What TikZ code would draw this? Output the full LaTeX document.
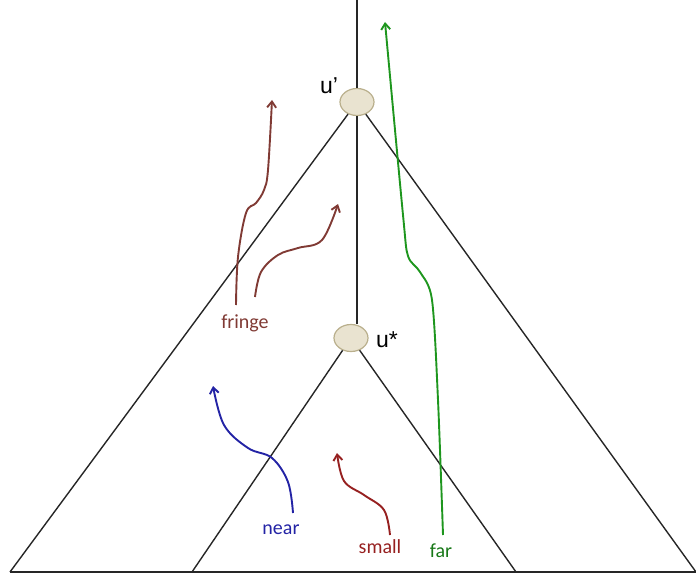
\documentclass[tikz,border=0pt]{standalone}
\usepackage{fontspec}
\setmainfont{Carlito}
\newfontfamily\labelfont{Liberation Sans}
\usetikzlibrary{arrows.meta, shapes.geometric}

\definecolor{nodefill}{RGB}{233,227,208}
\definecolor{nodeline}{RGB}{185,175,140}
\definecolor{fringecol}{RGB}{128,58,52}
\definecolor{smallcol}{RGB}{150,32,32}
\definecolor{nearcol}{RGB}{35,35,165}
\definecolor{farcol}{RGB}{30,150,30}

\tikzset{
    treenode/.style={ellipse, draw=nodeline, fill=nodefill, line width=1.2pt,
                     minimum width=34pt, minimum height=27pt, inner sep=0pt},
    walk/.style={line width=1.9pt, -{Straight Barb[length=6pt,width=9pt]}},
    tag/.style={font=\fontsize{20}{24}\selectfont, inner sep=1pt},
}

\begin{document}
\begin{tikzpicture}[x=1pt, y=-1pt]
            \useasboundingbox (0,0) rectangle (696,575);

            % the two tree nodes and their labels
            \node [treenode] (up) at (357,102) {};
            \node [treenode] (ustar) at (351,338) {};
            \node [font=\labelfont\fontsize{23}{27}\selectfont] (uplabel) at (329,86) {u’};
            \node [font=\labelfont\fontsize{23}{27}\selectfont] (ustarlabel) at (387,340) {u*};

            \coordinate (top) at (357,0);
            \coordinate (bigleft) at (10,572);
            \coordinate (bigright) at (696,572);
            \coordinate (smallleft) at (192,572);
            \coordinate (smallright) at (516,572);

            \begin{scope}[line width=1.4pt, black!85]
            % Path from the root down to u*:
            \draw [line width=2pt] (top) -- (up.north);
            \draw [line width=2pt] (up.south) -- (up.south |- ustar.north);
            % Triangles hanging below u' and u*:
            \foreach \apex/\l/\r in {up/bigleft/bigright, ustar/smallleft/smallright}{
                \draw (\apex) -- (\l);
                \draw (\apex) -- (\r);
            }
            \draw [line width=1.8pt] (bigleft) -- (bigright);
            \end{scope}

            % labels of the walks
            \node [tag, text=fringecol] (fringe) at (245,323) {fringe};
            \node [tag, text=nearcol] (near) at (281,530) {near};
            \node [tag, text=smallcol] (small) at (380,547) {small};
            \node [tag, text=farcol!80!black] (far) at (441,551) {far};

            % Walks:
            \draw [walk, fringecol] plot [smooth, tension=0.6] coordinates
                {(236,305) (238,257) (246,213) (256,203) (264,190) (268,170) (272,100)};
            \draw [walk, fringecol] plot [smooth, tension=0.6] coordinates
                {(255,297) (261,272) (278,255) (298,248) (322,240) (338,204)};
            \draw [walk, nearcol] plot [smooth, tension=0.6] coordinates
                {(293,513) (288,482) (272,458) (248,448) (224,425) (213,386)};
            \draw [walk, smallcol] plot [smooth, tension=0.6] coordinates
                {(390,535) (384,510) (364,495) (344,481) (337,453)};
            \draw [walk, farcol] plot [smooth, tension=0.5] coordinates
                {(443,535) (438,400) (432,300) (420,272) (408,256) (403,215) (385,22)};
        \end{tikzpicture}
\end{document}
